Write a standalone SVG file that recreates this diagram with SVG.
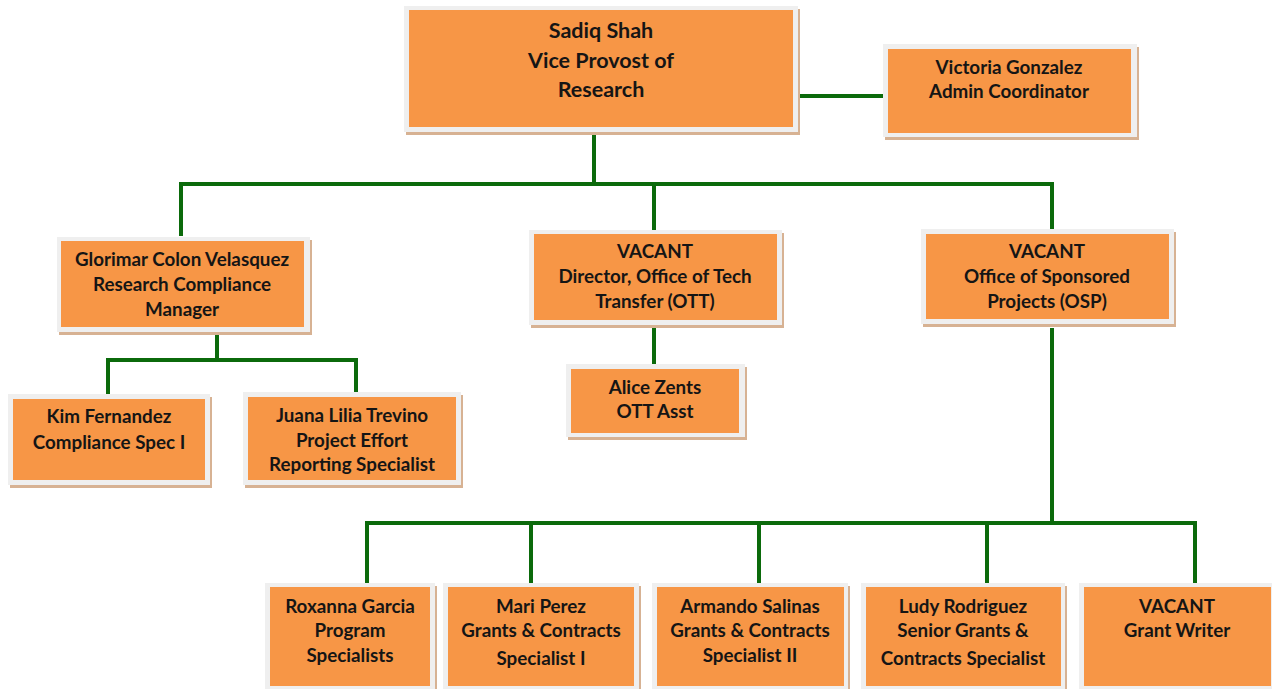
<svg xmlns="http://www.w3.org/2000/svg" width="1272" height="689" viewBox="0 0 1272 689">
<style>
.sh{fill:#d7b293}
.fr{fill:#efefef}
.bx{fill:#f79646}
.t{font-family:Lato,"Open Sans","Liberation Sans",sans-serif;font-weight:bold;fill:#151515;text-anchor:middle}
.big{font-size:21.5px}
.sm{font-size:18.8px}
.cn{fill:none;stroke:#0b6a0b;stroke-width:4;stroke-linejoin:miter}
</style>
<rect width="1272" height="689" fill="#ffffff"/>
<g id="connectors">
<path class="cn" d="M798 96H884"/>
<path class="cn" d="M594 133V184M181 236V184H1052V231M654 184V231"/>
<path class="cn" d="M217 332V360M108 396V360H356V394"/>
<path class="cn" d="M654 326V366"/>
<path class="cn" d="M1052 328V523M367 584V523H1195V584M531 523V584M759 523V584M987 523V584"/>
</g>
<g id="n-shah">
<rect class="sh" x="406" y="9" width="394" height="126"/>
<rect class="fr" x="404" y="6" width="394" height="126"/>
<rect class="bx" x="409" y="10" width="384" height="117"/>
<text class="t big" x="601" y="38">Sadiq Shah</text>
<text class="t big" x="601" y="68">Vice Provost of</text>
<text class="t big" x="601" y="97">Research</text>
</g>
<g id="n-gonzalez">
<rect class="sh" x="885" y="47" width="254" height="93"/>
<rect class="fr" x="883" y="44" width="254" height="93"/>
<rect class="bx" x="888" y="49" width="243" height="84"/>
<text class="t sm" x="1009" y="74">Victoria Gonzalez</text>
<text class="t sm" x="1009" y="98">Admin Coordinator</text>
</g>
<g id="n-velasquez">
<rect class="sh" x="59" y="240" width="253" height="95"/>
<rect class="fr" x="57" y="237" width="253" height="95"/>
<rect class="bx" x="61" y="241" width="243" height="86"/>
<text class="t sm" x="182" y="266">Glorimar Colon Velasquez</text>
<text class="t sm" x="182" y="291">Research Compliance</text>
<text class="t sm" x="182" y="316">Manager</text>
</g>
<g id="n-ott">
<rect class="sh" x="531" y="233" width="253" height="95"/>
<rect class="fr" x="529" y="230" width="253" height="95"/>
<rect class="bx" x="534" y="234" width="243" height="86"/>
<text class="t sm" x="655" y="258">VACANT</text>
<text class="t sm" x="655" y="283">Director, Office of Tech</text>
<text class="t sm" x="655" y="308">Transfer (OTT)</text>
</g>
<g id="n-osp">
<rect class="sh" x="923" y="232" width="253" height="95"/>
<rect class="fr" x="921" y="229" width="253" height="95"/>
<rect class="bx" x="926" y="234" width="243" height="85"/>
<text class="t sm" x="1047" y="258">VACANT</text>
<text class="t sm" x="1047" y="283">Office of Sponsored</text>
<text class="t sm" x="1047" y="308">Projects (OSP)</text>
</g>
<g id="n-fernandez">
<rect class="sh" x="10" y="397" width="202" height="91"/>
<rect class="fr" x="8" y="394" width="202" height="91"/>
<rect class="bx" x="13" y="399" width="192" height="81"/>
<text class="t sm" x="109" y="423">Kim Fernandez</text>
<text class="t sm" x="109" y="449">Compliance Spec I</text>
</g>
<g id="n-trevino">
<rect class="sh" x="245" y="395" width="218" height="93"/>
<rect class="fr" x="243" y="392" width="218" height="93"/>
<rect class="bx" x="248" y="397" width="208" height="83"/>
<text class="t sm" x="352" y="422">Juana Lilia Trevino</text>
<text class="t sm" x="352" y="447">Project Effort</text>
<text class="t sm" x="352" y="471">Reporting Specialist</text>
</g>
<g id="n-zents">
<rect class="sh" x="568" y="367" width="179" height="73"/>
<rect class="fr" x="566" y="364" width="179" height="73"/>
<rect class="bx" x="571" y="369" width="168" height="64"/>
<text class="t sm" x="655" y="394">Alice Zents</text>
<text class="t sm" x="655" y="418">OTT Asst</text>
</g>
<g id="n-garcia">
<rect class="sh" x="267" y="586" width="170" height="110"/>
<rect class="fr" x="265" y="583" width="170" height="110"/>
<rect class="bx" x="270" y="587" width="160" height="99"/>
<text class="t sm" x="350" y="613">Roxanna Garcia</text>
<text class="t sm" x="350" y="637">Program</text>
<text class="t sm" x="350" y="662">Specialists</text>
</g>
<g id="n-perez">
<rect class="sh" x="445" y="586" width="196" height="110"/>
<rect class="fr" x="443" y="583" width="196" height="110"/>
<rect class="bx" x="448" y="587" width="186" height="99"/>
<text class="t sm" x="541" y="613">Mari Perez</text>
<text class="t sm" x="541" y="637">Grants &amp; Contracts</text>
<text class="t sm" x="541" y="665">Specialist I</text>
</g>
<g id="n-salinas">
<rect class="sh" x="654" y="586" width="196" height="110"/>
<rect class="fr" x="652" y="583" width="196" height="110"/>
<rect class="bx" x="657" y="587" width="187" height="99"/>
<text class="t sm" x="750" y="613">Armando Salinas</text>
<text class="t sm" x="750" y="637">Grants &amp; Contracts</text>
<text class="t sm" x="750" y="662">Specialist II</text>
</g>
<g id="n-rodriguez">
<rect class="sh" x="863" y="586" width="204" height="110"/>
<rect class="fr" x="861" y="583" width="204" height="110"/>
<rect class="bx" x="866" y="587" width="195" height="99"/>
<text class="t sm" x="963" y="613">Ludy Rodriguez</text>
<text class="t sm" x="963" y="637">Senior Grants &amp;</text>
<text class="t sm" x="963" y="665">Contracts Specialist</text>
</g>
<g id="n-writer">
<rect class="fr" x="1079" y="583" width="200" height="110"/>
<rect class="bx" x="1084" y="587" width="187" height="99"/>
<text class="t sm" x="1177" y="613">VACANT</text>
<text class="t sm" x="1177" y="637">Grant Writer</text>
</g>
</svg>
